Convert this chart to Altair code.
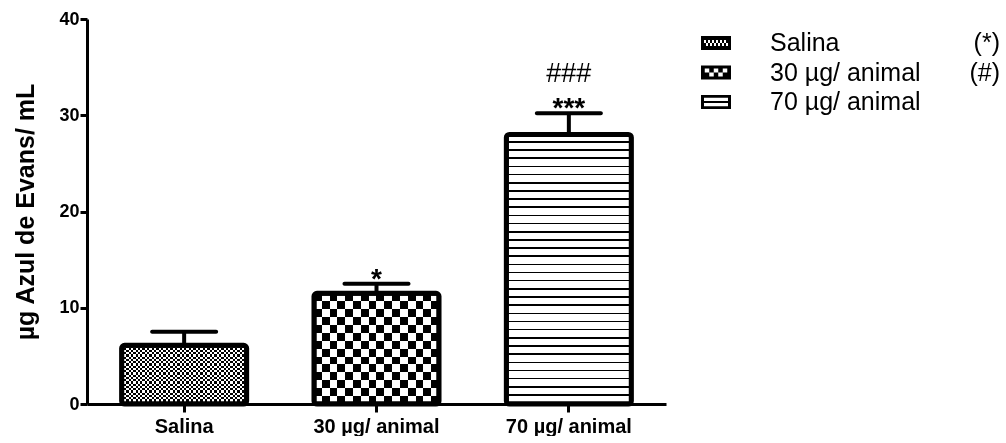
import altair as alt
import pandas as pd

# Evans blue extravasation per treatment group
groups = ["Salina", "30 µg/ animal", "70 µg/ animal"]
means = [6.1, 11.5, 28.0]
sems = [1.4, 1.0, 2.2]
stars = ["", "*", "***"]
hashes = ["", "", "###"]
legend_notes = ["(*)", "(#)", ""]
y_ticks = [0, 10, 20, 30, 40]

FONT = "Liberation Sans"

df = pd.DataFrame({"group": groups, "mean": means, "sem": sems,
                   "stars": stars, "hashes": hashes})
df["top"] = df["mean"] + df["sem"]


def stripe_fill(periods, horizontal, dark_share=0.5, dark_first=True):
    """Hard-edged black/white stripes as a linear gradient across the mark."""
    stops = []
    for k in range(periods):
        a = k / periods
        c = (k + 1) / periods
        if dark_first:
            b = (k + dark_share) / periods
            seq = [("black", a), ("black", b), ("white", b), ("white", c)]
        else:
            b = (k + 1 - dark_share) / periods
            seq = [("white", a), ("white", b), ("black", b), ("black", c)]
        stops += [alt.GradientStop(color=col, offset=off) for col, off in seq]
    if horizontal:
        return alt.LinearGradient(gradient="linear", stops=stops, x1=0, y1=0, x2=0, y2=1)
    return alt.LinearGradient(gradient="linear", stops=stops, x1=0, y1=0, x2=1, y2=0)


x_enc = alt.X(
    "group:N", sort=groups,
    scale=alt.Scale(paddingInner=0.35, paddingOuter=0.18),
    axis=alt.Axis(title=None, labelAngle=0, labelFontSize=20, labelFontWeight="bold",
                  labelColor="black", domainColor="black", domainWidth=3,
                  tickColor="black", tickWidth=3, tickSize=8, labelPadding=4),
)
y_scale = alt.Scale(domain=[0, 40], nice=False)
y_axis = alt.Axis(values=y_ticks, title="µg Azul de Evans/ mL", titleFontSize=25,
                  titleFontWeight="bold", titleColor="black", titlePadding=20,
                  labelFontSize=18, labelFontWeight="bold", labelColor="black",
                  domainColor="black", domainWidth=3, tickColor="black",
                  tickWidth=3, tickSize=7, labelPadding=1, grid=False)


def ypos(field):
    return alt.Y(field, scale=y_scale, axis=y_axis)


base = alt.Chart(df)

# fill patterns: checkerboards come from vertical stripes XOR horizontal stripes
patterns = {
    "Salina": [stripe_fill(27, False), stripe_fill(13, True)],
    "30 µg/ animal": [stripe_fill(8, False), stripe_fill(7, True)],
    "70 µg/ animal": [stripe_fill(33, True, dark_share=0.2, dark_first=False)],
}

layers = []
for g, grads in patterns.items():
    for i, grad in enumerate(grads):
        props = dict(fill=grad, strokeWidth=0)
        if i == 1:
            props["blend"] = "difference"
        layers.append(
            base.transform_filter(alt.datum.group == g)
            .mark_bar(**props)
            .encode(x=x_enc, y=ypos("mean:Q"))
        )

outline = base.mark_bar(fill="white", fillOpacity=0, stroke="black",
                        strokeWidth=5, cornerRadius=3).encode(x=x_enc, y=ypos("mean:Q"))

stem = base.mark_rule(color="black", strokeWidth=4).encode(
    x=x_enc, y=ypos("mean:Q"), y2="top:Q")

cap = base.mark_tick(color="black", size=68, thickness=4, cornerRadius=2,
                     opacity=1).encode(x=x_enc, y=ypos("top:Q"))

star_text = base.mark_text(fontSize=28, font=FONT, fontWeight="bold",
                           baseline="alphabetic", dy=4,
                           color="black").encode(x=x_enc, y=ypos("top:Q"), text="stars:N")
hash_text = base.mark_text(fontSize=27, font=FONT, baseline="alphabetic", dy=-31,
                           color="black").encode(x=x_enc, y=ypos("top:Q"), text="hashes:N")

main = alt.layer(*layers, outline, stem, cap, star_text, hash_text).properties(
    width=579, height=385)

# legend panel with patterned swatches drawn as custom symbol paths
def swatch(holes):
    outer = "M-1,-0.47L1,-0.47L1,0.47L-1,0.47Z"
    inner = "".join(
        f"M{x0:.3f},{y0:.3f}L{x0:.3f},{y1:.3f}L{x1:.3f},{y1:.3f}L{x1:.3f},{y0:.3f}Z"
        for x0, y0, x1, y1 in holes)
    return outer + inner


fine = []
w = 1.6 / 12
for r, (y0, y1) in enumerate([(-0.2, 0.0), (0.0, 0.2)]):
    for c in range(12):
        if (r + c) % 2 == 0:
            fine.append((-0.8 + c * w, y0, -0.8 + (c + 1) * w, y1))
coarse = []
w = 1.5 / 5
for r, (y0, y1) in enumerate([(-0.27, 0.0), (0.0, 0.27)]):
    for c in range(5):
        if (r + c) % 2 == 0:
            coarse.append((-0.75 + c * w, y0, -0.75 + (c + 1) * w, y1))
lines = [(-0.8, -0.29, 0.8, -0.07), (-0.8, 0.07, 0.8, 0.29)]
swatch_paths = [swatch(fine), swatch(coarse), swatch(lines)]

ldf = pd.DataFrame({"label": groups, "note": legend_notes})
leg_y = alt.Y("label:N", sort=groups, scale=alt.Scale(range=[24, 83], padding=0), axis=None)
leg = alt.Chart(ldf)
swatches = leg.mark_point(filled=True, fill="black", size=900, opacity=1,
                          strokeWidth=0).encode(
    x=alt.value(30), y=leg_y,
    shape=alt.Shape("label:N", sort=groups,
                    scale=alt.Scale(domain=groups, range=swatch_paths), legend=None))
leg_labels = leg.mark_text(align="left", baseline="middle", fontSize=25, font=FONT,
                           color="black").encode(x=alt.value(84), y=leg_y, text="label:N")
leg_notes = leg.mark_text(align="right", baseline="middle", fontSize=25, font=FONT,
                          color="black").encode(x=alt.value(314), y=leg_y, text="note:N")
legend_panel = alt.layer(swatches, leg_labels, leg_notes).properties(width=318, height=385)

chart = (
    alt.hconcat(main, legend_panel, spacing=20)
    .properties(padding={"left": 13, "top": 10, "right": 0, "bottom": 0})
    .configure(font=FONT)
    .configure_view(stroke=None)
)

chart.save("out.html", embed_options={"renderer": "svg", "actions": False})
